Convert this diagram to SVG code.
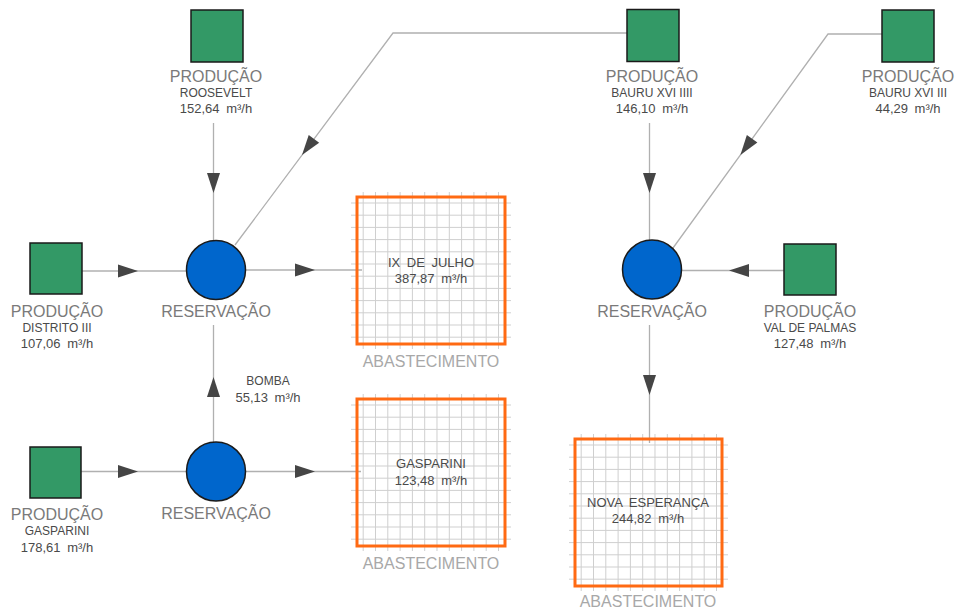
<svg xmlns="http://www.w3.org/2000/svg" xmlns:xlink="http://www.w3.org/1999/xlink" width="960" height="614" viewBox="0 0 960 614">
<style>
text{font-family:"Liberation Sans",Arial,sans-serif;text-anchor:middle}
.big{font-size:16px;fill:#7a7a7a}
.name{font-size:12px;fill:#4a4a4a}
.val{font-size:13px;fill:#4a4a4a;word-spacing:3px}
.abs{font-size:16px;fill:#a8a8a8}
.prod{fill:#339966;stroke:#1a1a1a;stroke-width:1.5}
.res{fill:#0066cc;stroke:#1a1a1a;stroke-width:1.5}
.box{fill:none;stroke:#ff6a13;stroke-width:3}
.grid{fill:none;stroke:#cfcfcf;stroke-width:1}
.conn{fill:none;stroke:#b0b0b0;stroke-width:1.3}
.ah{fill:#454545}
</style>
<defs>
<path id="ah" d="M0 0L-20 -6.5L-20 6.5Z"/>
</defs>
<rect width="960" height="614" fill="#fff"/>
<g id="connectors">
<path class="conn" d="M213.5 123V240"/>
<path class="conn" d="M627 33H393L235 245"/>
<path class="conn" d="M82 271H186"/>
<path class="conn" d="M246 270H362"/>
<path class="conn" d="M213.5 442V325"/>
<path class="conn" d="M81 471.5H187"/>
<path class="conn" d="M246 471.5H361"/>
<path class="conn" d="M649.5 123V240"/>
<path class="conn" d="M882 34H828L673 248"/>
<path class="conn" d="M784 270.5H682"/>
<path class="conn" d="M649.5 325V443"/>
<g class="ah">
<use xlink:href="#ah" transform="translate(213.5 193) rotate(90)"/>
<use xlink:href="#ah" transform="translate(302 155) rotate(126.7)"/>
<use xlink:href="#ah" transform="translate(138 271)"/>
<use xlink:href="#ah" transform="translate(315 270)"/>
<use xlink:href="#ah" transform="translate(213.5 377) rotate(-90)"/>
<use xlink:href="#ah" transform="translate(138 471.5)"/>
<use xlink:href="#ah" transform="translate(315 471.5)"/>
<use xlink:href="#ah" transform="translate(649.5 193) rotate(90)"/>
<use xlink:href="#ah" transform="translate(740.4 155) rotate(125.9)"/>
<use xlink:href="#ah" transform="translate(729 270.5) rotate(180)"/>
<use xlink:href="#ah" transform="translate(649.5 395) rotate(90)"/>
</g>
</g>
<g id="prod-roosevelt">
<rect class="prod" x="191" y="10" width="52" height="52"/>
<text class="big" x="216" y="82">PRODUÇÃO</text>
<text class="name" x="216" y="97">ROOSEVELT</text>
<text class="val" x="216" y="113">152,64 m³/h</text>
</g>
<g id="prod-bauru-xvi-iiii">
<rect class="prod" x="627" y="9.5" width="52" height="52"/>
<text class="big" x="652" y="82">PRODUÇÃO</text>
<text class="name" x="652" y="97">BAURU XVI IIII</text>
<text class="val" x="652" y="113">146,10 m³/h</text>
</g>
<g id="prod-bauru-xvi-iii">
<rect class="prod" x="882" y="10" width="52" height="52"/>
<text class="big" x="908" y="82">PRODUÇÃO</text>
<text class="name" x="908" y="97">BAURU XVI III</text>
<text class="val" x="908" y="113">44,29 m³/h</text>
</g>
<g id="prod-distrito-iii">
<rect class="prod" x="30" y="243" width="52" height="51"/>
<text class="big" x="57" y="317">PRODUÇÃO</text>
<text class="name" x="57" y="332">DISTRITO III</text>
<text class="val" x="57" y="348">107,06 m³/h</text>
</g>
<g id="prod-gasparini">
<rect class="prod" x="30" y="447" width="51" height="51"/>
<text class="big" x="57" y="520">PRODUÇÃO</text>
<text class="name" x="57" y="535">GASPARINI</text>
<text class="val" x="57" y="552">178,61 m³/h</text>
</g>
<g id="prod-val-de-palmas">
<rect class="prod" x="784" y="244" width="52" height="51"/>
<text class="big" x="810" y="317">PRODUÇÃO</text>
<text class="name" x="810" y="332">VAL DE PALMAS</text>
<text class="val" x="810" y="348">127,48 m³/h</text>
</g>
<g id="res-1">
<circle class="res" cx="216" cy="270" r="29.5"/>
<text class="big" x="216" y="317">RESERVAÇÃO</text>
</g>
<g id="res-2">
<circle class="res" cx="216" cy="471.5" r="29.5"/>
<text class="big" x="216" y="519">RESERVAÇÃO</text>
</g>
<g id="res-3">
<circle class="res" cx="652" cy="269.5" r="29.5"/>
<text class="big" x="652" y="317">RESERVAÇÃO</text>
</g>
<g id="bomba">
<text class="name" x="268" y="385">BOMBA</text>
<text class="val" x="268" y="402">55,13 m³/h</text>
</g>
<g id="abs-ix-de-julho">
<path class="grid" d="M363.2 192v157m12.3 0v-157m12.3 0v157m12.3 0v-157m12.3 0v157m12.3 0v-157m12.3 0v157m12.3 0v-157m12.3 0v157m12.3 0v-157m12.3 0v157m12.3 0v-157"/>
<path class="grid" d="M351 203h160m0 12.2h-160m0 12.2h160m0 12.2h-160m0 12.2h160m0 12.2h-160m0 12.2h160m0 12.2h-160m0 12.2h160m0 12.2h-160m0 12.2h160m0 12.2h-160"/>
<rect class="box" x="357" y="197" width="148" height="147"/>
<text class="val" x="431" y="267">IX DE JULHO</text>
<text class="val" x="431" y="283">387,87 m³/h</text>
<text class="abs" x="431" y="367">ABASTECIMENTO</text>
</g>
<g id="abs-gasparini">
<path class="grid" d="M363.2 394v157m12.3 0v-157m12.3 0v157m12.3 0v-157m12.3 0v157m12.3 0v-157m12.3 0v157m12.3 0v-157m12.3 0v157m12.3 0v-157m12.3 0v157m12.3 0v-157"/>
<path class="grid" d="M351 405h160m0 12.2h-160m0 12.2h160m0 12.2h-160m0 12.2h160m0 12.2h-160m0 12.2h160m0 12.2h-160m0 12.2h160m0 12.2h-160m0 12.2h160m0 12.2h-160"/>
<rect class="box" x="357" y="399" width="148" height="147"/>
<text class="val" x="431" y="468">GASPARINI</text>
<text class="val" x="431" y="485">123,48 m³/h</text>
<text class="abs" x="431" y="569">ABASTECIMENTO</text>
</g>
<g id="abs-nova-esperanca">
<path class="grid" d="M581.2 434v157m12.3 0v-157m12.3 0v157m12.3 0v-157m12.3 0v157m12.3 0v-157m12.3 0v157m12.3 0v-157m12.3 0v157m12.3 0v-157m12.3 0v157m12.3 0v-157"/>
<path class="grid" d="M569 445h159m0 12.2h-159m0 12.2h159m0 12.2h-159m0 12.2h159m0 12.2h-159m0 12.2h159m0 12.2h-159m0 12.2h159m0 12.2h-159m0 12.2h159m0 12.2h-159"/>
<rect class="box" x="575" y="439" width="147" height="147"/>
<text class="val" x="648" y="507">NOVA ESPERANÇA</text>
<text class="val" x="648" y="523">244,82 m³/h</text>
<text class="abs" x="648" y="607">ABASTECIMENTO</text>
</g>
</svg>
